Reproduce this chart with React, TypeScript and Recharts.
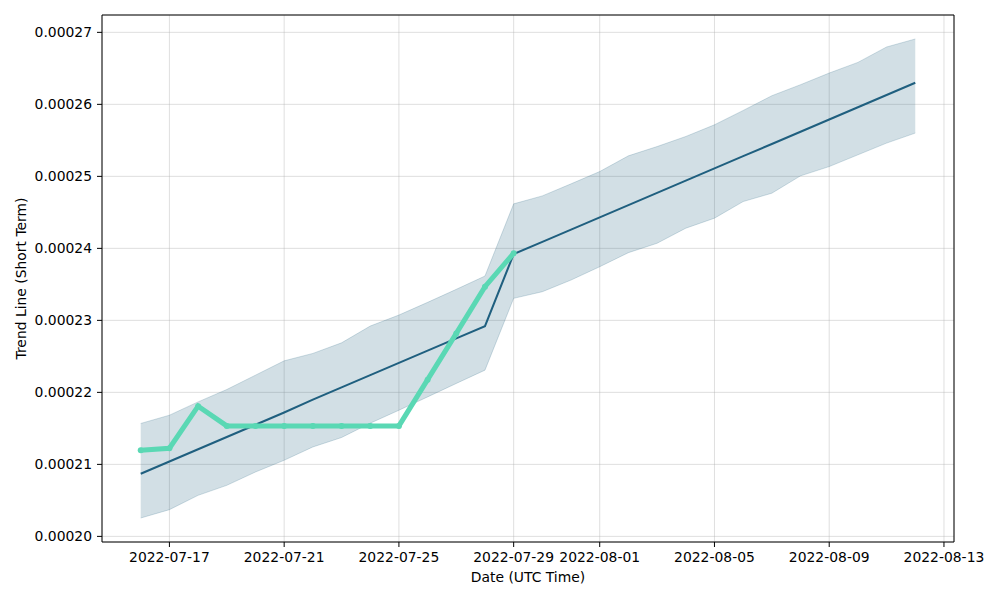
import React from 'react';
import { ComposedChart, Area, Line, XAxis, YAxis, CartesianGrid, Label } from 'recharts';

const dates = [
  '2022-07-16', '2022-07-17', '2022-07-18', '2022-07-19', '2022-07-20', '2022-07-21', '2022-07-22',
  '2022-07-23', '2022-07-24', '2022-07-25', '2022-07-26', '2022-07-27', '2022-07-28', '2022-07-29',
  '2022-07-30', '2022-07-31', '2022-08-01', '2022-08-02', '2022-08-03', '2022-08-04', '2022-08-05',
  '2022-08-06', '2022-08-07', '2022-08-08', '2022-08-09', '2022-08-10', '2022-08-11', '2022-08-12',
];

const trend = [
  0.0002087, 0.0002104, 0.0002121, 0.0002138, 0.0002155, 0.0002172, 0.000219,
  0.0002207, 0.0002224, 0.0002241, 0.0002258, 0.0002275, 0.0002292, 0.0002392,
  0.0002409, 0.0002426, 0.0002443, 0.000246, 0.0002477, 0.0002494, 0.0002511,
  0.0002528, 0.0002545, 0.0002562, 0.0002579, 0.0002596, 0.0002613, 0.000263,
];

const upper = [
  0.00021568, 0.00021683, 0.00021868, 0.0002204, 0.00022239, 0.00022438, 0.00022541,
  0.00022688, 0.00022921, 0.00023074, 0.0002325, 0.00023431, 0.00023616, 0.00024618,
  0.00024729, 0.00024896, 0.00025067, 0.00025285, 0.00025414, 0.00025554, 0.00025716,
  0.00025915, 0.0002612, 0.00026273, 0.00026435, 0.00026583, 0.00026797, 0.00026908,
];

const lower = [
  0.00020255, 0.00020371, 0.0002057, 0.00020709, 0.00020894, 0.00021057, 0.00021242,
  0.00021373, 0.00021572, 0.00021752, 0.00021937, 0.00022124, 0.00022309, 0.00023306,
  0.00023398, 0.0002356, 0.00023745, 0.0002394, 0.00024071, 0.0002428, 0.00024419,
  0.0002465, 0.00024766, 0.00025007, 0.00025136, 0.00025299, 0.00025462, 0.00025601,
];

const actual: (number | null)[] = [
  0.00021196, 0.00021224, 0.00021808, 0.00021534, 0.00021534, 0.00021534, 0.00021534,
  0.00021534, 0.00021534, 0.00021534, 0.00022177, 0.00022819, 0.00023467, 0.00023932,
  null, null, null, null, null, null, null,
  null, null, null, null, null, null, null,
];

const xTickDates = [
  '2022-07-17', '2022-07-21', '2022-07-25', '2022-07-29',
  '2022-08-01', '2022-08-05', '2022-08-09', '2022-08-13',
];

const yTicks = [0.0002, 0.00021, 0.00022, 0.00023, 0.00024, 0.00025, 0.00026, 0.00027];

const DAY = 86400000;
const toTs = (d: string) => Date.parse(d + 'T00:00:00Z');

const data = dates.map((d, i) => ({
  t: toTs(d),
  trend: trend[i],
  band: [lower[i], upper[i]],
  actual: actual[i],
}));

const xTicks = xTickDates.map(toTs);
const xDomain = [toTs(dates[0]) - 1.35 * DAY, toTs(dates[dates.length - 1]) + 1.35 * DAY];
const yDomain = [0.00019922, 0.00027241];

const FONT = 'DejaVu Sans';
const tickStyle = { fill: '#000', fontSize: 13.9, fontFamily: FONT };
const fmtDate = (v: number) => new Date(v).toISOString().slice(0, 10);

export default function App() {
  return (
    <div style={{ position: 'absolute', left: 0, top: 0, width: 1000, height: 600, background: '#fff' }}>
      <ComposedChart
        width={1000}
        height={600}
        data={data}
        margin={{ top: 14, right: 45, bottom: 18, left: 0 }}
        style={{ fontFamily: FONT }}
      >
        <CartesianGrid stroke="#b0b0b0" strokeOpacity={0.4} strokeWidth={1} />
        <XAxis
          dataKey="t"
          type="number"
          domain={xDomain}
          ticks={xTicks}
          allowDataOverflow
          tickFormatter={fmtDate}
          tick={tickStyle}
          tickSize={5}
          tickMargin={5}
          height={40}
          stroke="#000"
          interval={0}
        >
          <Label value="Date (UTC Time)" position="insideBottom" offset={0} style={{ fill: '#000', fontSize: 13.9, fontFamily: FONT }} />
        </XAxis>
        <XAxis
          xAxisId="top"
          orientation="top"
          dataKey="t"
          type="number"
          domain={xDomain}
          ticks={xTicks}
          allowDataOverflow
          height={1}
          tick={false}
          tickLine={false}
          axisLine={{ stroke: '#000' }}
          stroke="#000"
        />
        <YAxis
          type="number"
          domain={yDomain}
          ticks={yTicks}
          allowDataOverflow
          tickFormatter={(v: number) => v.toFixed(5)}
          tick={tickStyle}
          tickSize={5}
          tickMargin={5}
          width={102}
          stroke="#000"
          interval={0}
        >
          <Label
            value="Trend Line (Short Term)"
            angle={-90}
            position="insideLeft"
            offset={21}
            style={{ textAnchor: 'middle', fill: '#000', fontSize: 13.9, fontFamily: FONT }}
          />
        </YAxis>
        <YAxis
          yAxisId="right"
          orientation="right"
          type="number"
          domain={yDomain}
          ticks={yTicks}
          allowDataOverflow
          width={1}
          tick={false}
          tickLine={false}
          axisLine={{ stroke: '#000' }}
          stroke="#000"
        />
        <Area
          dataKey="band"
          type="linear"
          stroke="#1f5f7f"
          strokeOpacity={0.2}
          strokeWidth={1}
          fill="#1f5f7f"
          fillOpacity={0.2}
          isAnimationActive={false}
          activeDot={false}
        />
        <Line
          dataKey="trend"
          type="linear"
          stroke="#1f5f7f"
          strokeWidth={2}
          dot={false}
          activeDot={false}
          isAnimationActive={false}
        />
        <Line
          dataKey="actual"
          type="linear"
          stroke="#5ad8b4"
          strokeWidth={5}
          dot={{ r: 3, fill: '#5ad8b4', stroke: 'none' }}
          activeDot={false}
          isAnimationActive={false}
        />
      </ComposedChart>
    </div>
  );
}
